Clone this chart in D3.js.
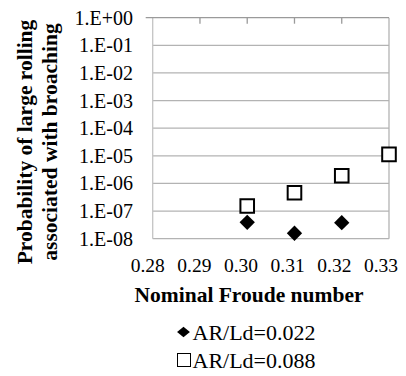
<!DOCTYPE html>
<html>
<head>
<meta charset="utf-8">
<script src="https://cdn.jsdelivr.net/npm/d3@7"></script>
<style>
  body { margin: 0; background: #fff; }
  text { font-family: "Liberation Serif", "Times New Roman", serif; fill: #000; }
</style>
</head>
<body>
<svg id="chart"></svg>
<script>
// values
const froude = [0.30, 0.31, 0.32, 0.33];
const probSmall = [3.9e-8, 1.57e-8, 3.8e-8];          // AR/Ld=0.022 (0.30..0.32)
const probLarge = [1.53e-7, 4.6e-7, 1.9e-6, 1.13e-5]; // AR/Ld=0.088
const xTicks = [0.28, 0.29, 0.30, 0.31, 0.32, 0.33];
const yTicks = [1e0, 1e-1, 1e-2, 1e-3, 1e-4, 1e-5, 1e-6, 1e-7, 1e-8];
const yTickLabels = ["1.E+00", "1.E-01", "1.E-02", "1.E-03", "1.E-04", "1.E-05", "1.E-06", "1.E-07", "1.E-08"];
const seriesNames = ["AR/Ld=0.022", "AR/Ld=0.088"];

const width = 406, height = 376;
const plot = {left: 152.7, right: 389, top: 17.7, bottom: 238.7};

const svg = d3.select("#chart")
  .attr("width", width)
  .attr("height", height);

const x = d3.scaleLinear().domain([0.28, 0.33]).range([plot.left, plot.right]);
const y = d3.scaleLog().domain([1e-8, 1]).range([plot.bottom, plot.top]);

// horizontal gridlines
svg.append("g")
  .selectAll("line")
  .data(yTicks.slice(1))
  .enter()
  .append("line")
  .attr("x1", plot.left).attr("x2", plot.right)
  .attr("y1", d => y(d)).attr("y2", d => y(d))
  .attr("stroke", "#b3b3b3").attr("stroke-width", 1.3);

// right border
svg.append("line")
  .attr("x1", plot.right).attr("x2", plot.right)
  .attr("y1", plot.top).attr("y2", plot.bottom)
  .attr("stroke", "#b3b3b3").attr("stroke-width", 1.3);

// left axis
svg.append("line")
  .attr("x1", plot.left).attr("x2", plot.left)
  .attr("y1", plot.top).attr("y2", plot.bottom)
  .attr("stroke", "#c4c4c4").attr("stroke-width", 1.3);

// x axis sits on top (log axis crosses at 1)
const xAxis = svg.append("g");
xAxis.append("line")
  .attr("x1", plot.left - 7).attr("x2", plot.right)
  .attr("y1", plot.top).attr("y2", plot.top)
  .attr("stroke", "#9a9a9a").attr("stroke-width", 1.3);
xAxis.selectAll("line.tick")
  .data(xTicks.slice(1, -1))
  .enter()
  .append("line")
  .attr("class", "tick")
  .attr("x1", d => x(d)).attr("x2", d => x(d))
  .attr("y1", plot.top).attr("y2", plot.top + 6)
  .attr("stroke", "#9a9a9a").attr("stroke-width", 1.3);

// tick labels
svg.append("g")
  .selectAll("text")
  .data(yTicks)
  .enter()
  .append("text")
  .attr("x", 133)
  .attr("y", d => y(d))
  .attr("dy", "0.35em")
  .attr("text-anchor", "end")
  .style("font-size", "20px")
  .text((d, i) => yTickLabels[i]);

svg.append("g")
  .selectAll("text")
  .data(xTicks)
  .enter()
  .append("text")
  .attr("x", (d, i) => x(d) - 5 - i * 0.6)
  .attr("y", 272)
  .attr("text-anchor", "middle")
  .style("font-size", "19.5px")
  .text(d => d3.format(".2f")(d));

// axis titles
svg.append("text")
  .attr("x", 249)
  .attr("y", 301.5)
  .attr("text-anchor", "middle")
  .style("font-size", "21.5px")
  .style("font-weight", "bold")
  .text("Nominal Froude number");

const yTitle = ["Probability of large rolling", "associated with broaching"];
svg.append("g")
  .selectAll("text")
  .data(yTitle)
  .enter()
  .append("text")
  .attr("transform", (d, i) => `translate(${32 + i * 24.5},142) rotate(-90)`)
  .attr("text-anchor", "middle")
  .style("font-size", "21.5px")
  .style("font-weight", "bold")
  .text(d => d);

// markers
const diamond = d3.symbol().type(d3.symbolDiamond2).size(150);
const square = d3.symbol().type(d3.symbolSquare).size(185);

svg.append("g")
  .selectAll("path")
  .data(probSmall)
  .enter()
  .append("path")
  .attr("d", diamond)
  .attr("transform", (d, i) => `translate(${x(froude[i])},${y(d)})`)
  .attr("fill", "#000");

svg.append("g")
  .selectAll("path")
  .data(probLarge)
  .enter()
  .append("path")
  .attr("d", square)
  .attr("transform", (d, i) => `translate(${x(froude[i])},${y(d)})`)
  .attr("fill", "#fff")
  .attr("stroke", "#000")
  .attr("stroke-width", 2);

// legend
const legend = svg.append("g");
seriesNames.forEach((name, i) => {
  const cy = 332 + i * 28;
  if (i === 0) {
    legend.append("path")
      .attr("d", d3.symbol().type(d3.symbolDiamond2).size(105))
      .attr("transform", `translate(183.5,${cy}) scale(1,0.8)`)
      .attr("fill", "#000");
  } else {
    legend.append("rect")
      .attr("x", 177.5).attr("y", cy - 6.5)
      .attr("width", 13).attr("height", 13)
      .attr("fill", "#fff").attr("stroke", "#000").attr("stroke-width", 1);
  }
  legend.append("text")
    .attr("x", 192.5)
    .attr("y", cy + 7.5)
    .style("font-size", "22px")
    .text(name);
});
</script>
</body>
</html>
